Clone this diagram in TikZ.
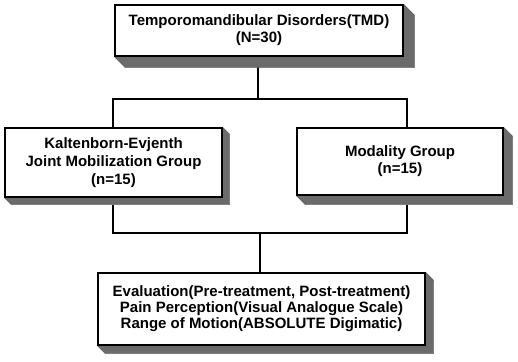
\documentclass[tikz,border=0pt]{standalone}
\usepackage{fontspec}
\setmainfont{Liberation Sans}
\usetikzlibrary{calc,backgrounds}
\begin{document}
\begin{tikzpicture}[x=1pt,y=-1pt,
  box/.style={draw=black, line width=1.4pt, fill=white, rectangle, inner sep=0pt, align=center,
    font=\fontsize{15}{17}\selectfont\bfseries},
  conn/.style={draw=black, line width=2pt},
  boxshadow/.style={fill=black!58, draw=black!70, line width=0.4pt}
]
\useasboundingbox (0,0) rectangle (518,361);
\node[box, minimum width=288pt, minimum height=51pt] (top) at (259,30.5)
  {Temporomandibular Disorders(TMD)\\(N=30)};
\node[box, minimum width=217pt, minimum height=69pt, font=\fontsize{15}{18}\selectfont\bfseries] (left) at (113.5,162.5)
  {Kaltenborn-Evjenth\\Joint Mobilization Group\\(n=15)};
\node[box, minimum width=206pt, minimum height=67pt] (right) at (400,161.5)
  {Modality Group\\(n=15)};
\node[box, minimum width=327pt, minimum height=72pt, font=\fontsize{15}{16}\selectfont\bfseries] (bot) at (261.5,309)
  {Evaluation(Pre-treatment, Post-treatment)\\Pain Perception(Visual Analogue Scale)\\Range of Motion(ABSOLUTE Digimatic)};
\begin{scope}[on background layer]
  \coordinate (j1) at (258,99);
  \coordinate (ja) at (113,99);
  \coordinate (jb) at (407,99);
  \coordinate (la) at (113,128);
  \coordinate (rb) at (407,128);
  \coordinate (lc) at (113,205);
  \coordinate (rc) at (407,205);
  \coordinate (ld) at (113,233);
  \coordinate (rd) at (407,233);
  \coordinate (j2) at (260,233);
  \coordinate (bt) at (260,273);
  \draw[conn] (top.south -| j1) -- (j1);
  \draw[conn] (la) -- (ja) -- (jb) -- (rb);
  \draw[conn] (lc) -- (ld) -- (rd) -- (rc);
  \draw[conn] (j2) -- (bt);
  \foreach \n/\d in {top/11, left/7, right/9, bot/8}{
    \path[boxshadow] (\n.south west) -- ++(\d,\d) -- ($(\n.south east)+(\d,\d)$) -- ($(\n.north east)+(\d,\d)$) -- (\n.north east) -- (\n.south east) -- cycle;
  }
\end{scope}
\end{tikzpicture}
\end{document}
